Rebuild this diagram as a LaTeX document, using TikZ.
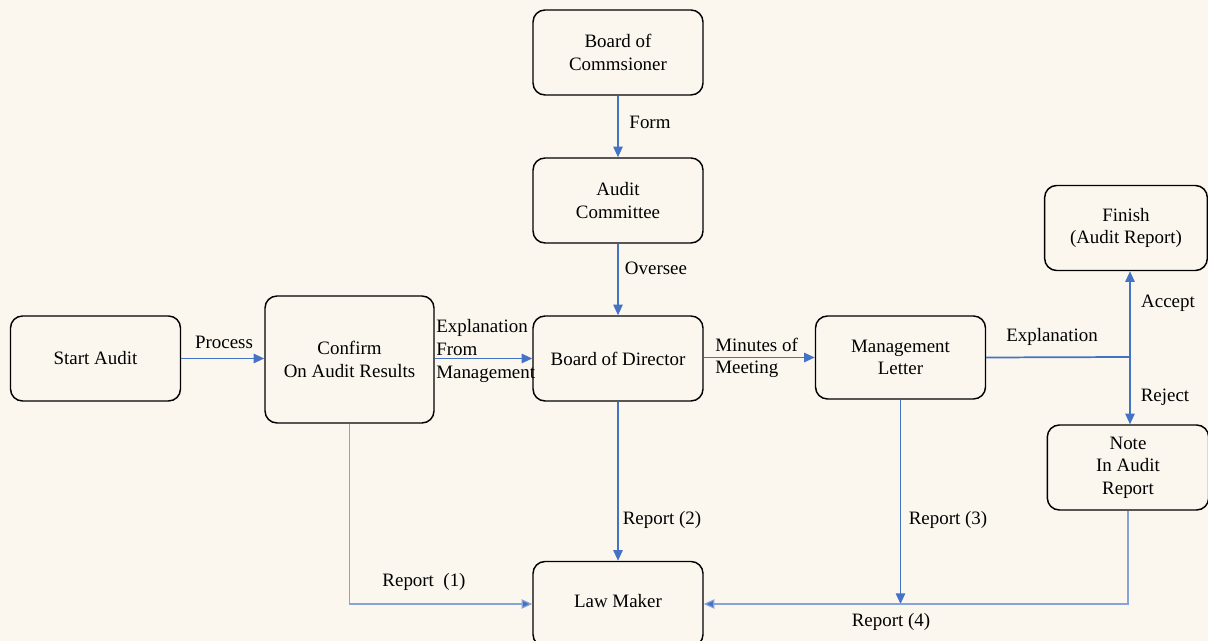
\documentclass[tikz,border=0pt]{standalone}
\usepackage{fontspec}
\setmainfont{Liberation Serif}
\usetikzlibrary{arrows.meta}

\definecolor{paper}{HTML}{FBF7EE}
\definecolor{flowblue}{HTML}{4472C4}
\definecolor{flowpale}{HTML}{86A3DA}

\tikzset{
  box/.style={draw=black,line width=1.1pt,rounded corners=9pt,fill=paper,
    minimum width=127.5pt,minimum height=63.75pt,align=center,inner sep=2pt},
  flowline/.style={draw=flowblue,line width=1.3pt},
  flowarrow/.style={flowline,-{Triangle[length=8pt,width=7pt]}},
  paleline/.style={draw=flowpale,line width=0.9pt},
  palearrow/.style={paleline,-{Triangle[length=8pt,width=7pt,fill=flowblue]}},
  lbl/.style={inner sep=0pt}
}

\begin{document}
\begin{tikzpicture}[x=0.75pt,y=-0.75pt]
\begin{scope}[every node/.style={font=\fontsize{14.2}{17}\selectfont}]

\fill [paper] (0,0) rectangle (1208,641);
\useasboundingbox (0,0) rectangle (1208,641);

% boxes
\node [box] (commish)   at (618,52.5)  {Board of\\Commsioner};
\node [box] (committee) at (618,200.5) {Audit\\Committee};
\node [box] (director)  at (618,358.5) {Board of Director};
\node [box] (start)     at (95.5,358.5) {\raisebox{-3pt}{Start Audit}};
\node [box,minimum width=126.75pt,minimum height=95.25pt] (confirm) at (349.5,359.5) {Confirm\\On Audit Results};
\node [box,minimum height=62.25pt] (letter) at (900.5,357.5) {Management\\Letter};
\node [box,minimum width=122pt] (finish) at (1126,228) {Finish\\(Audit Report)};
\node [box,minimum width=121pt] (note)   at (1128,467.5) {Note\\In Audit\\Report};
\node [box] (lawmaker)  at (618,604) {\raisebox{4pt}{Law Maker}};

\coordinate (split) at (1130,357);

% connectors
\draw [flowarrow] (start.east) -- (start.east -| confirm.west);
\draw [flowarrow] (confirm.east |- director) -- (director.west);
\draw [flowarrow] (commish) -- (committee);
\draw [flowarrow] (committee) -- (director);
\draw [flowarrow] (director.east |- letter) -- (letter.west);
\draw [flowline]  (letter.east) -- (split);
\draw [flowarrow] (split) -- (split |- finish.south);
\draw [flowarrow] (split) -- (split |- note.north);
\draw [palearrow] (confirm.south) |- (lawmaker.west);
\draw [flowarrow] (director) -- (lawmaker);
\draw [flowarrow] (letter.south) -- (letter.south |- lawmaker.west);
\draw [palearrow] (note.south) |- (lawmaker.east);

% labels
\node [lbl] (lblprocess) at (224,342) {Process};
\node [lbl,anchor=west,align=left] (lblexplain) at (436,351) {Explanation\\From\\Management};
\node [lbl] (lblform)    at (650,122) {Form};
\node [lbl] (lbloversee) at (656,268) {Oversee};
\node [lbl,anchor=west,align=left] (lblminutes) at (715,358) {Minutes of\\Meeting};
\node [lbl] (lblexplainb) at (1052,337) {Explanation};
\node [lbl] (lblaccept)  at (1168,303) {Accept};
\node [lbl] (lblreject)  at (1165,397) {Reject};
\node [lbl] (lblrepone)  at (424,582)  {Report\ \ (1)};
\node [lbl] (lblreptwo)  at (662,520)  {Report (2)};
\node [lbl] (lblrepthree) at (948,520) {Report (3)};
\node [lbl] (lblrepfour) at (891,622)  {Report (4)};

\end{scope}
\end{tikzpicture}
\end{document}
